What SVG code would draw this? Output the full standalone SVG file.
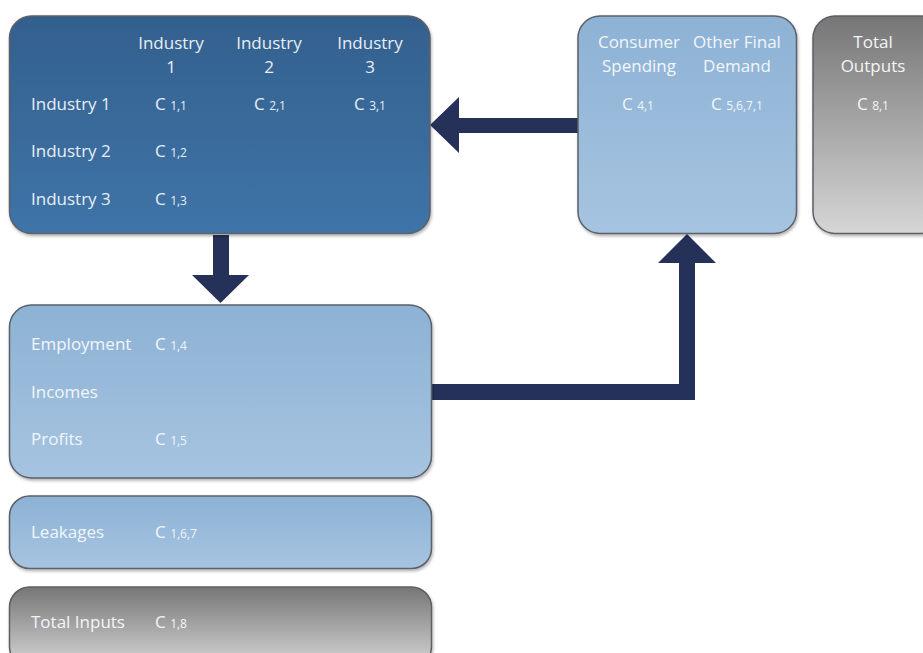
<svg xmlns="http://www.w3.org/2000/svg" width="923" height="653" viewBox="0 0 923 653">
<defs>
<linearGradient id="gDark" x1="0" y1="0" x2="0" y2="1"><stop offset="0" stop-color="#33608d"/><stop offset="1" stop-color="#3e74a8"/></linearGradient>
<linearGradient id="gLight" x1="0" y1="0" x2="0" y2="1"><stop offset="0" stop-color="#8db2d5"/><stop offset="1" stop-color="#a6c4e0"/></linearGradient>
<linearGradient id="gGray" x1="0" y1="0" x2="0" y2="1"><stop offset="0" stop-color="#767676"/><stop offset="1" stop-color="#d6d6d6"/></linearGradient>
<filter id="sh" x="-5%" y="-5%" width="110%" height="115%"><feDropShadow dx="1" dy="2" stdDeviation="1.5" flood-color="#000" flood-opacity="0.3"/></filter>
</defs>
<style>
.box{stroke:#5b6068;stroke-width:1.5;filter:url(#sh)}
.dark{fill:url(#gDark)}
.light{fill:url(#gLight)}
.gray{fill:url(#gGray)}
text{font-family:"Open Sans","Liberation Sans",sans-serif;font-size:17px;fill:#e8eef5}
.lt{fill:#f2f6fa}
.c{text-anchor:middle}
.sub{font-size:12px}
.arrow{fill:#263159}
</style>
<g id="connectors">
<polygon class="arrow" points="213,235 229,235 229,275 249,275 220.5,303 192,275 213,275"/>
<polygon class="arrow" points="578,118 578,133 459,133 459,153 430,125 459,97 459,118"/>
<polygon class="arrow" points="432,384 679,384 679,263 658,263 687,234 716,263 695,263 695,400 432,400"/>
</g>
<g id="industries">
<rect class="box dark" x="9.5" y="16" width="420.5" height="217.5" rx="22"/>
<text class="c" x="171" y="49">Industry</text><text class="c" x="171" y="73">1</text>
<text class="c" x="269" y="49">Industry</text><text class="c" x="269" y="73">2</text>
<text class="c" x="370" y="49">Industry</text><text class="c" x="370" y="73">3</text>
<text x="31" y="110">Industry 1</text>
<text x="31" y="157">Industry 2</text>
<text x="31" y="205">Industry 3</text>
<text x="155" y="110">C <tspan class="sub">1,1</tspan></text>
<text x="254" y="110">C <tspan class="sub">2,1</tspan></text>
<text x="354" y="110">C <tspan class="sub">3,1</tspan></text>
<text x="155" y="157">C <tspan class="sub">1,2</tspan></text>
<text x="155" y="205">C <tspan class="sub">1,3</tspan></text>
</g>
<g id="final-demand">
<rect class="box light" x="578" y="16" width="218.5" height="217.5" rx="22"/>
<text class="c lt" x="639" y="48">Consumer</text><text class="c lt" x="639" y="72">Spending</text>
<text class="c lt" x="737" y="48">Other Final</text><text class="c lt" x="737" y="72">Demand</text>
<text class="lt" x="622" y="110">C <tspan class="sub">4,1</tspan></text>
<text class="lt" x="711" y="110">C <tspan class="sub">5,6,7,1</tspan></text>
</g>
<g id="total-outputs">
<rect class="box gray" x="813" y="16" width="130" height="217.5" rx="22"/>
<text class="c lt" x="873" y="48">Total</text><text class="c lt" x="873" y="72">Outputs</text>
<text class="lt" x="857" y="110">C <tspan class="sub">8,1</tspan></text>
</g>
<g id="value-added">
<rect class="box light" x="9.5" y="305" width="422" height="173" rx="22"/>
<text class="lt" x="31" y="350">Employment</text>
<text class="lt" x="31" y="398">Incomes</text>
<text class="lt" x="31" y="445">Profits</text>
<text class="lt" x="155" y="350">C <tspan class="sub">1,4</tspan></text>
<text class="lt" x="155" y="445">C <tspan class="sub">1,5</tspan></text>
</g>
<g id="leakages">
<rect class="box light" x="9.5" y="496" width="422" height="72.5" rx="20"/>
<text class="lt" x="31" y="538">Leakages</text>
<text class="lt" x="155" y="538">C <tspan class="sub">1,6,7</tspan></text>
</g>
<g id="total-inputs">
<rect class="box gray" x="9.5" y="587" width="422" height="80" rx="20"/>
<text class="lt" x="31" y="628">Total Inputs</text>
<text class="lt" x="155" y="628">C <tspan class="sub">1,8</tspan></text>
</g>
</svg>
